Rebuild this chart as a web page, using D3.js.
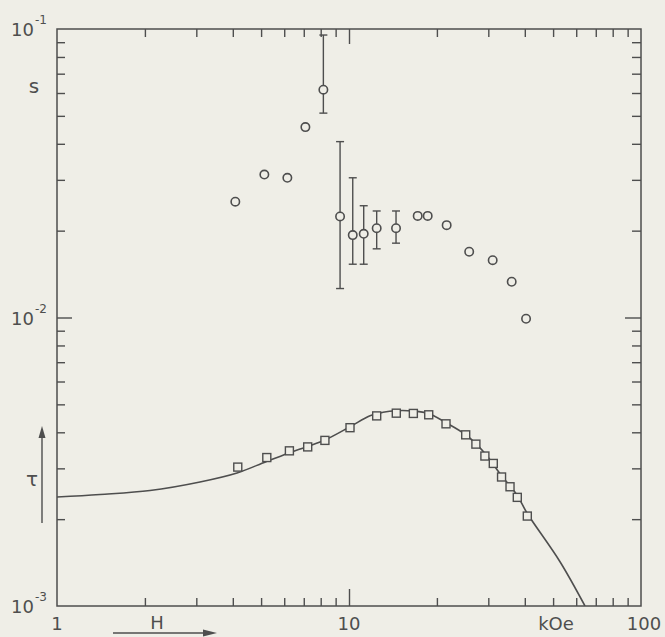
<!DOCTYPE html>
<html>
<head>
<meta charset="utf-8">
<script src="https://cdn.jsdelivr.net/npm/d3@7/dist/d3.min.js"></script>
<style>
  html, body { margin: 0; padding: 0; background: #efeee7; }
  svg { display: block; }
  text { font-family: "DejaVu Sans", "Liberation Sans", sans-serif; fill: #4e4e4e; }
</style>
</head>
<body>
<svg id="chart" width="665" height="637"></svg>
<script>
// s(H): circles, with error bars where measured
const sField = [4.08, 5.13, 6.15, 7.09, 8.17, 9.32, 10.3, 11.23, 12.44, 14.49, 17.19, 18.6, 21.6, 25.8, 31.05, 36.07, 40.4];
const sValue = [0.0252, 0.0313, 0.0305, 0.0457, 0.0616, 0.0224, 0.0193, 0.0195, 0.0204, 0.0204, 0.0225, 0.0225, 0.0209, 0.0169, 0.0158, 0.0133, 0.0099];
const sErrLow  = [null, null, null, null, 0.0511, 0.0126, 0.0153, 0.0153, 0.0173, 0.0181, null, null, null, null, null, null, null];
const sErrHigh = [null, null, null, null, 0.0953, 0.0407, 0.0305, 0.0244, 0.0234, 0.0234, null, null, null, null, null, null, null];

// tau(H): squares
const tauField = [4.16, 5.23, 6.25, 7.22, 8.27, 10.08, 12.44, 14.52, 16.61, 18.75, 21.49, 25.1, 27.2, 29.2, 31.2, 33.3, 35.6, 37.7, 40.8];
const tauValue = [0.00303, 0.00327, 0.00345, 0.00356, 0.00375, 0.00415, 0.00456, 0.00466, 0.00465, 0.00460, 0.00428, 0.00392, 0.00364, 0.00331, 0.00312, 0.00280, 0.00259, 0.00238, 0.00205];

// calculated tau curve
const fitField = [1, 1.404, 2.082, 3.088, 4.135, 5.196, 6.23, 7.18, 8.27, 10.08, 11.8, 13.08, 14.49, 16.57, 18.64, 21.49, 25.16, 29.2, 33.16, 37.6, 40.7, 52.8, 64.3];
const fitTau   = [0.002386, 0.002435, 0.002513, 0.002691, 0.002891, 0.003164, 0.003392, 0.003566, 0.003761, 0.004182, 0.004567, 0.004693, 0.004753, 0.004742, 0.004655, 0.004318, 0.003915, 0.003384, 0.002844, 0.002425, 0.002101, 0.001424, 0.001];

// tick values
const xMinorTicks = [2, 3, 4, 5, 6, 7, 8, 9, 20, 30, 40, 50, 60, 70, 80, 90];
const xMajorTicks = [10];
const yMinorTicks = [0.002, 0.003, 0.004, 0.005, 0.006, 0.007, 0.008, 0.009, 0.02, 0.03, 0.04, 0.05, 0.06, 0.07, 0.08, 0.09];
const yMajorTicks = [0.01];
const xLabels = [{v: 1, t: "1"}, {v: 10, t: "10"}, {v: 100, t: "100"}];
const yLabels = [{v: 0.1, e: "-1"}, {v: 0.01, e: "-2"}, {v: 0.001, e: "-3"}];

const ink = "#4e4e4e";
const paper = "#efeee7";
const m = {left: 57, right: 641, top: 29, bottom: 606};

const svg = d3.select("#chart");
const x = d3.scaleLog().domain([1, 100]).range([m.left, m.right]);
const y = d3.scaleLog().domain([0.001, 0.1]).range([m.bottom, m.top]);

function styleAxis(g) {
  g.select(".domain").remove();
  g.selectAll(".tick line").attr("stroke", ink).attr("stroke-width", 1.4);
  g.selectAll(".tick text").remove();
}

// inward ticks on all four sides
const axes = [
  [d3.axisBottom(x).tickValues(xMinorTicks).tickSize(-8), `translate(0,${m.bottom})`],
  [d3.axisBottom(x).tickValues(xMajorTicks).tickSize(-17), `translate(0,${m.bottom})`],
  [d3.axisTop(x).tickValues(xMinorTicks).tickSize(-8), `translate(0,${m.top})`],
  [d3.axisTop(x).tickValues(xMajorTicks).tickSize(-15), `translate(0,${m.top})`],
  [d3.axisLeft(y).tickValues(yMinorTicks).tickSize(-8), `translate(${m.left},0)`],
  [d3.axisLeft(y).tickValues(yMajorTicks).tickSize(-15), `translate(${m.left},0)`],
  [d3.axisRight(y).tickValues(yMinorTicks).tickSize(-9), `translate(${m.right},0)`],
  [d3.axisRight(y).tickValues(yMajorTicks).tickSize(-16), `translate(${m.right},0)`]
];
axes.forEach(([ax, tr]) => svg.append("g").attr("transform", tr).call(ax).call(styleAxis));

// frame
svg.append("rect")
  .attr("x", m.left).attr("y", m.top)
  .attr("width", m.right - m.left).attr("height", m.bottom - m.top)
  .attr("fill", "none").attr("stroke", ink).attr("stroke-width", 1.5);

// clipped plot area
svg.append("clipPath").attr("id", "plot")
  .append("rect").attr("x", m.left).attr("y", m.top - 4).attr("width", m.right - m.left).attr("height", m.bottom - m.top + 4);
const plot = svg.append("g").attr("clip-path", "url(#plot)");

// fitted curve
const curve = d3.line()
  .x((d, i) => x(fitField[i]))
  .y((d, i) => y(fitTau[i]))
  .curve(d3.curveCatmullRom.alpha(0.5));
plot.append("path")
  .datum(fitField)
  .attr("d", curve)
  .attr("fill", "none").attr("stroke", ink).attr("stroke-width", 1.6);

// error bars
const errIdx = d3.range(sField.length).filter(i => sErrLow[i] !== null);
const cap = 4;
const eb = plot.append("g").attr("stroke", ink).attr("stroke-width", 1.4);
errIdx.forEach(i => {
  const cx = x(sField[i]);
  eb.append("line").attr("x1", cx).attr("x2", cx).attr("y1", y(sErrLow[i])).attr("y2", y(sErrHigh[i]));
  eb.append("line").attr("x1", cx - cap).attr("x2", cx + cap).attr("y1", y(sErrLow[i])).attr("y2", y(sErrLow[i]));
  eb.append("line").attr("x1", cx - cap).attr("x2", cx + cap).attr("y1", y(sErrHigh[i])).attr("y2", y(sErrHigh[i]));
});

// s circles
plot.append("g").selectAll("circle")
  .data(sField)
  .join("circle")
  .attr("cx", d => x(d))
  .attr("cy", (d, i) => y(sValue[i]))
  .attr("r", 4.2)
  .attr("fill", paper).attr("stroke", ink).attr("stroke-width", 1.6);

// tau squares
const sq = 8;
plot.append("g").selectAll("rect")
  .data(tauField)
  .join("rect")
  .attr("x", d => x(d) - sq / 2)
  .attr("y", (d, i) => y(tauValue[i]) - sq / 2)
  .attr("width", sq).attr("height", sq)
  .attr("fill", paper).attr("stroke", ink).attr("stroke-width", 1.4);

// y tick labels: powers of ten
yLabels.forEach(l => {
  svg.append("text")
    .attr("x", 34).attr("y", y(l.v) + 7)
    .attr("text-anchor", "end")
    .attr("font-size", 18)
    .text("10");
  svg.append("text")
    .attr("x", 35).attr("y", y(l.v) - 5)
    .attr("font-size", 12)
    .text(l.e);
});

// x tick labels
xLabels.forEach(l => {
  svg.append("text")
    .attr("x", x(l.v) + (l.v === 100 ? 3 : 0))
    .attr("y", 630)
    .attr("text-anchor", "middle")
    .attr("font-size", 18)
    .text(l.t);
});
svg.append("text").attr("x", 556).attr("y", 630).attr("text-anchor", "middle")
  .attr("font-size", 18).text("kOe");

// axis names with arrows
svg.append("text").attr("x", 34).attr("y", 93).attr("text-anchor", "middle")
  .attr("font-size", 20).text("s");
svg.append("text").attr("x", 32).attr("y", 486).attr("text-anchor", "middle")
  .attr("font-size", 20).text("τ");
svg.append("text").attr("x", 157).attr("y", 629).attr("text-anchor", "middle")
  .attr("font-size", 18).text("H");

const arrows = svg.append("g").attr("stroke", ink).attr("stroke-width", 1.4).attr("fill", ink);
arrows.append("line").attr("x1", 42).attr("x2", 42).attr("y1", 523).attr("y2", 432);
arrows.append("path").attr("d", "M42,426 L38.5,438 L45.5,438 Z").attr("stroke", "none");
arrows.append("line").attr("x1", 113).attr("x2", 210).attr("y1", 633).attr("y2", 633);
arrows.append("path").attr("d", "M217,633 L203,629.5 L203,636.5 Z").attr("stroke", "none");
</script>
</body>
</html>
